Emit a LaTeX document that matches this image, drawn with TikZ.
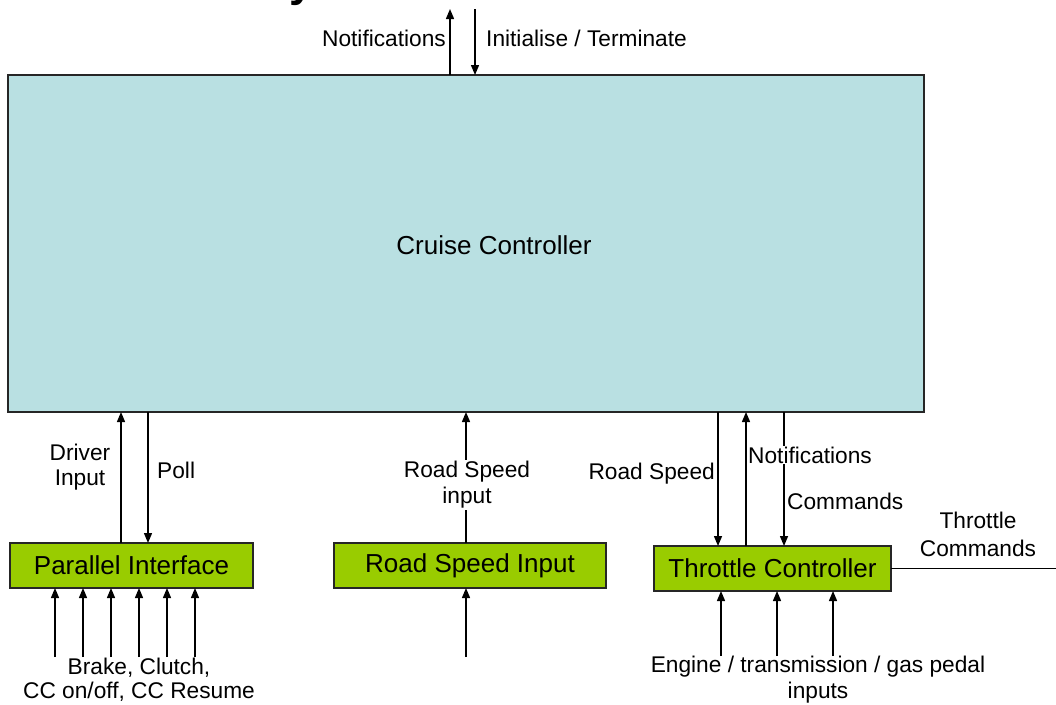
\documentclass[tikz,border=0pt]{standalone}
\usepackage{fontspec}
\setmainfont{Liberation Sans}
\usetikzlibrary{arrows.meta}
\definecolor{ccblue}{RGB}{185,224,226}
\definecolor{ifgreen}{RGB}{153,204,0}
\begin{document}
\begin{tikzpicture}[x=1pt,y=-1pt,
  sysbox/.style={draw=black!85, line width=1.3pt, fill=ccblue, inner sep=0pt, outer sep=0pt},
  ifbox/.style={draw=black!85, line width=1.2pt, fill=ifgreen, inner sep=0pt, outer sep=0pt,
                font=\fontsize{26}{30}\selectfont},
  flow/.style={line width=1.4pt, -{Triangle[length=10pt,width=8pt]}},
  plainline/.style={line width=1.4pt},
  lbl/.style={font=\fontsize{22.7}{25}\selectfont, inner sep=1pt, align=center},
]
\useasboundingbox (0,0) rectangle (1056,704);

% cut-off title fragment along the upper edge
\node[anchor=base west, inner sep=0pt, font=\fontsize{44}{44}\selectfont\bfseries] (ttl) at (289,-3) {y};

% main system box
\node[sysbox, minimum width=916pt, minimum height=337pt] (cc) at (466,243.5) {};
\node[font=\fontsize{26}{30}\selectfont] (cctext) at (494,245) {Cruise Controller};

% interface boxes
\node[ifbox, minimum width=243pt, minimum height=45pt] (pi) at (131.5,565.5) {Parallel Interface};
\node[ifbox, minimum width=272pt, minimum height=45pt] (rsi) at (470,565.5) {Road Speed Input};
\node[ifbox, minimum width=237pt, minimum height=45pt] (tc) at (772.5,568.5) {Throttle Controller};

% external flows at the top
\coordinate (topout) at (450,9);
\coordinate (topin) at (475,9);
\draw[flow] (cc.north -| topout) -- (topout);
\draw[flow] (topin) -- (cc.north -| topin);
\node[lbl, anchor=east] (ntop) at (447,38) {Notifications};
\node[lbl, anchor=west] (itop) at (485,38) {Initialise / Terminate};

% parallel interface flows
\coordinate (xdrv) at (121,0);
\coordinate (xpoll) at (148,0);
\draw[flow] (pi.north -| xdrv) -- (cc.south -| xdrv);
\draw[flow] (cc.south -| xpoll) -- (pi.north -| xpoll);
\node[lbl] (drvlbl) at (80,467) {Driver\\Input};
\node[lbl, anchor=west] (polllbl) at (156,470) {Poll};
\foreach \x [count=\i] in {55,83,111,139,167,195} {
  \coordinate (bk\i) at (\x,657);
  \draw[flow] (bk\i) -- (pi.south -| bk\i);
}
\node[lbl, font=\fontsize{22.7}{24}\selectfont] (bklbl) at (139,680) {Brake, Clutch,\\CC on/off, CC Resume};

% road speed input flows
\coordinate (xrs) at (466,0);
\coordinate (rsin) at (466,657);
\draw[flow] (rsi.north -| xrs) -- (cc.south -| xrs);
\draw[flow] (rsin) -- (rsi.south -| rsin);
\node[lbl, fill=white, font=\fontsize{22.7}{26}\selectfont] (rslbl) at (467,485) {Road Speed\\input};

% throttle controller flows
\coordinate (xspd) at (718,0);
\coordinate (xnot) at (746,0);
\coordinate (xcmd) at (784,0);
\draw[flow] (cc.south -| xspd) -- (tc.north -| xspd);
\draw[flow] (tc.north -| xnot) -- (cc.south -| xnot);
\draw[flow] (cc.south -| xcmd) -- (tc.north -| xcmd);
\node[lbl, anchor=east] (spdlbl) at (716,474) {Road Speed};
\node[lbl, anchor=west, fill=white] (notlbl) at (747,455) {Notifications};
\node[lbl, anchor=west] (cmdlbl) at (786,501) {Commands};

\coordinate (throut) at (1056,0);
\draw[plainline] (tc.east) -- (tc.east -| throut);
\node[lbl, font=\fontsize{22.7}{28}\selectfont] (thrlbl) at (978,534) {Throttle\\Commands};

\foreach \x [count=\i] in {721,777,833} {
  \coordinate (eng\i) at (\x,656);
  \draw[flow] (eng\i) -- (tc.south -| eng\i);
}
\node[lbl, font=\fontsize{22.7}{26}\selectfont] (englbl) at (818,680) {Engine / transmission / gas pedal\\inputs};
\end{tikzpicture}
\end{document}
